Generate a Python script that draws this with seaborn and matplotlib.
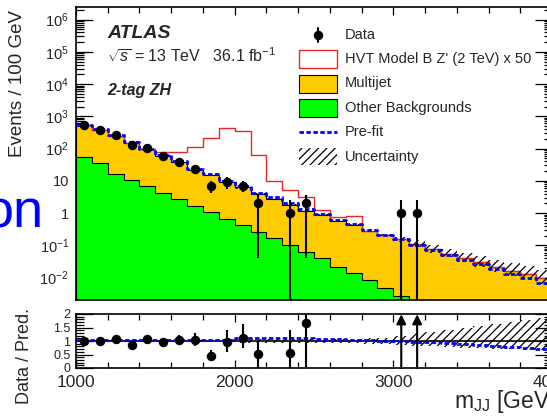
import numpy as np
import pandas as pd
import matplotlib
matplotlib.use("Agg")
import matplotlib.pyplot as plt
import seaborn as sns
from matplotlib.ticker import FixedLocator, MultipleLocator, FuncFormatter, NullFormatter
from matplotlib.patches import Rectangle
from matplotlib.lines import Line2D
from matplotlib.transforms import Affine2D

# ---- binning: m_JJ in 100 GeV bins ----
edges = np.arange(1000, 4001, 100)
centers = edges[:-1] + 50
bin_edges = [float(e) for e in edges]

# ---- post-fit background components (events / 100 GeV) ----
multijet = [477, 343, 229, 139, 88, 56, 35.3, 20.8, 14.1, 8.6,
            5.8, 3.6, 2.6, 1.7, 1.14, 0.83, 0.56, 0.416, 0.277, 0.205,
            0.152, 0.11, 0.075, 0.055, 0.04, 0.03, 0.022, 0.0165, 0.013, 0.0095]
other = [53, 35, 16.2, 10.6, 7.1, 4.3, 2.7, 1.66, 1.08, 0.66,
         0.43, 0.265, 0.166, 0.10, 0.064, 0.04, 0.022, 0.0137, 0.0085, 0.0047,
         0.0027, 0, 0, 0, 0, 0, 0, 0, 0, 0]

# HVT Model B Z' (2 TeV) x 50, stacked on the background
signal_x50 = [0, 0, 0, 0, 0, 16, 38, 86, 192, 413,
              349, 59, 7, 3.4, 1.95, 0.38, 0.2, 0.37, 0, 0,
              0, 0, 0, 0, 0, 0, 0, 0, 0, 0]

# pre-fit total background
prefit = [557, 397, 257, 157, 99.9, 63.3, 39.9, 23.6, 15.9, 9.7,
          6.9, 4.29, 3.07, 2.0, 1.34, 0.95, 0.62, 0.45, 0.291, 0.21,
          0.153, 0.106, 0.071, 0.051, 0.0356, 0.0258, 0.0183, 0.013, 0.00975, 0.00665]

# background uncertainty (relative, upward / downward)
unc_up = [0.02, 0.02, 0.02, 0.02, 0.02, 0.02, 0.02, 0.02, 0.03, 0.03,
          0.07, 0.07, 0.07, 0.07, 0.07, 0.08, 0.08, 0.08, 0.10, 0.10,
          0.20, 0.30, 0.35, 0.42, 0.50, 0.55, 0.62, 0.70, 0.78, 0.85]
unc_dn = [0.02, 0.02, 0.02, 0.02, 0.02, 0.02, 0.02, 0.02, 0.03, 0.03,
          0.07, 0.07, 0.07, 0.07, 0.07, 0.08, 0.08, 0.08, 0.10, 0.10,
          0.15, 0.18, 0.20, 0.22, 0.25, 0.27, 0.30, 0.31, 0.32, 0.33]

nan = np.nan
data = [535, 380, 262, 129, 103, 59, 39, 23, 7, 9,
        7, 2, nan, 1, 2, nan, nan, nan, nan, nan,
        1, 1, nan, nan, nan, nan, nan, nan, nan, nan]
data_err_lo = [23, 19.5, 16, 11.4, 10, 7.7, 6.2, 4.8, 2.9, 3.5,
               2.5, 1.96, nan, 0.999, 1.96, nan, nan, nan, nan, nan,
               0.999, 0.999, nan, nan, nan, nan, nan, nan, nan, nan]
data_err_hi = [24, 20.5, 17.2, 12.4, 11.1, 8.7, 7.3, 5.9, 3.1, 4.0,
               3.1, 1.8, nan, 1.55, 1.6, nan, nan, nan, nan, nan,
               1.6, 1.6, nan, nan, nan, nan, nan, nan, nan, nan]

multijet = np.array(multijet)
other = np.array(other)
signal_x50 = np.array(signal_x50)
prefit = np.array(prefit)
unc_up = np.array(unc_up)
unc_dn = np.array(unc_dn)
data = np.array(data)
data_err_lo = np.array(data_err_lo)
data_err_hi = np.array(data_err_hi)
total = multijet + other

hist = pd.DataFrame({
    "mjj": centers,
    "total": total,
    "other": other,
    "with_signal": total + signal_x50,
})


def step_ext(v):
    """Repeat the last bin so a steps-post curve spans the final bin."""
    v = np.asarray(v, dtype=float)
    return np.append(v, v[-1])


# ---- style ----
sns.set_theme(style="ticks")
plt.rcParams["font.family"] = ["Liberation Sans", "DejaVu Sans"]
plt.rcParams["mathtext.fontset"] = "custom"
plt.rcParams["mathtext.rm"] = "Liberation Sans"
plt.rcParams["mathtext.it"] = "Liberation Sans:italic"
plt.rcParams["mathtext.bf"] = "Liberation Sans:bold"
plt.rcParams["hatch.linewidth"] = 0.9
plt.rcParams["axes.linewidth"] = 1.0

W, H = 547, 416
fig = plt.figure(figsize=(W / 100, H / 100), dpi=100)
# pixel coordinates with origin at the top-left corner of the canvas
PX = Affine2D().scale(1.0 / W, -1.0 / H).translate(0, 1) + fig.transFigure

x_left, x_right = 76, 552
ax = fig.add_axes([x_left / W, 1 - 299.5 / H, (x_right - x_left) / W, (299.5 - 7) / H])
rax = fig.add_axes([x_left / W, 1 - 368 / H, (x_right - x_left) / W, (368 - 314) / H])

YELLOW = "#FFCC00"
GREEN = "#00FF00"
RED = "#E8272A"
BLUE = "#0000FF"
DASH = (0, (1.6, 0.9))
HATCH = "////"

ax.set_yscale("log")

# stacked backgrounds: total (multijet on top) then other backgrounds
sns.histplot(data=hist, x="mjj", weights="total", bins=bin_edges, element="step", fill=True,
             color=YELLOW, alpha=1, edgecolor="black", linewidth=0.8, ax=ax, zorder=1)
sns.histplot(data=hist, x="mjj", weights="other", bins=bin_edges, element="step", fill=True,
             color=GREEN, alpha=1, edgecolor="black", linewidth=0.8, ax=ax, zorder=1.1)

# signal stacked on background
sns.histplot(data=hist, x="mjj", weights="with_signal", bins=bin_edges, element="step",
             fill=False, color=RED, linewidth=1.0, ax=ax, zorder=2)

# uncertainty band
ax.fill_between(edges, step_ext(total * (1 - unc_dn)), step_ext(total * (1 + unc_up)),
                step="post", facecolor="none", edgecolor="black", hatch=HATCH,
                linewidth=0, zorder=3)

# pre-fit line
sns.lineplot(x=edges, y=step_ext(prefit), drawstyle="steps-post",
             color=BLUE, linewidth=2.0, ax=ax, zorder=4)
ax.lines[-1].set_linestyle(DASH)

# data
ok = ~np.isnan(data)
ax.errorbar(centers[ok], data[ok], yerr=[data_err_lo[ok], data_err_hi[ok]], fmt="o",
            color="black", ms=5.8, elinewidth=1.5, capsize=0, zorder=5)

ax.set_xlim(1000, 4000)
ax.set_ylim(2.1e-3, 2.45e6)
ax.set_xlabel("")
ax.set_ylabel("")


def log_label(v, pos):
    k = int(round(np.log10(v)))
    if k == 0:
        return "1"
    if k == 1:
        return "10"
    return r"$10^{%d}$" % k


ax.yaxis.set_major_locator(FixedLocator([10.0 ** k for k in range(-2, 7)]))
ax.yaxis.set_minor_locator(FixedLocator([m * 10.0 ** k for k in range(-3, 7) for m in range(2, 10)]))
ax.yaxis.set_major_formatter(FuncFormatter(log_label))
ax.yaxis.set_minor_formatter(NullFormatter())
ax.xaxis.set_major_locator(MultipleLocator(1000))
ax.xaxis.set_minor_locator(MultipleLocator(200))
ax.xaxis.set_major_formatter(NullFormatter())

for a in (ax, rax):
    a.tick_params(which="both", direction="in", top=True, right=True, color="black")
    a.tick_params(axis="y", which="major", length=12, width=0.9)
    a.tick_params(axis="y", which="minor", length=6, width=0.9)
    a.tick_params(axis="x", which="major", length=6, width=0.9)
    a.tick_params(axis="x", which="minor", length=4, width=0.9)
    for s in a.spines.values():
        s.set_color("black")
        s.set_linewidth(1.2)
ax.tick_params(axis="y", labelsize=10.5, pad=5)

# ---- ratio panel ----
rax.fill_between(edges, step_ext(1 - unc_dn), step_ext(1 + unc_up), step="post",
                 facecolor="none", edgecolor="black", hatch=HATCH, linewidth=0, zorder=1)
rax.axhline(1.0, color="black", linewidth=1.2, zorder=2)
pre_ratio = prefit / total
sns.lineplot(x=edges, y=step_ext(pre_ratio), drawstyle="steps-post",
             color=BLUE, linewidth=2.0, ax=rax, zorder=3)
rax.lines[-1].set_linestyle(DASH)

ratio = data / total
r_lo = data_err_lo / total
r_hi = data_err_hi / total
inside = ok & (ratio <= 2)
rax.errorbar(centers[inside], ratio[inside], yerr=[r_lo[inside], r_hi[inside]], fmt="o",
             color="black", ms=5.8, elinewidth=1.5, capsize=0, zorder=5)
for c in centers[ok & (ratio > 2)]:
    rax.annotate("", xy=(c, 1.99), xytext=(c, 0.0),
                 arrowprops=dict(arrowstyle="-|>", color="black", lw=1.5,
                                 mutation_scale=14, shrinkA=0, shrinkB=0), zorder=5)

rax.set_xlim(1000, 4000)
rax.set_ylim(0, 2)
rax.yaxis.set_major_locator(FixedLocator([0, 0.5, 1, 1.5, 2]))
rax.yaxis.set_major_formatter(FuncFormatter(lambda v, p: "%g" % v))
rax.yaxis.set_minor_locator(MultipleLocator(0.1))
rax.xaxis.set_major_locator(MultipleLocator(1000))
rax.xaxis.set_minor_locator(MultipleLocator(200))
rax.tick_params(axis="y", labelsize=9, pad=4)
rax.tick_params(axis="x", labelsize=12.5, pad=5)
rax.set_xlabel("")
rax.set_ylabel("")

# ---- axis titles ----
fig.text(17.5, 10, "Events / 100 GeV", transform=PX, rotation=90, ha="center", va="top",
         fontsize=13.5)
fig.text(25, 308, "Data / Pred.", transform=PX, rotation=90, ha="center", va="top",
         fontsize=13)
fig.text(555, 408, r"m$_{\mathregular{JJ}}$ [GeV]", transform=PX, ha="right",
         va="baseline", fontsize=16.5)

# ---- labels in the plot ----
fig.text(107, 38, "ATLAS", transform=PX, fontsize=14, fontweight="bold", style="italic",
         va="baseline")
fig.text(107, 62, r"$\sqrt{s}$ = 13 TeV   36.1 fb$^{-1}$", transform=PX, fontsize=11.5,
         va="baseline")
fig.text(107, 95, "2-tag ZH", transform=PX, fontsize=11.5, fontweight="bold",
         style="italic", va="baseline")

# ---- legend ----
bx, bw = 299, 38
tx = 345
fs_leg = 10.5
fig.add_artist(Line2D([318, 318], [28, 42], transform=PX, color="black", lw=1.5))
fig.add_artist(Line2D([318], [35], transform=PX, color="black", marker="o", ms=5.8, lw=0))
fig.text(tx, 35, "Data", transform=PX, va="center", fontsize=fs_leg)
fig.add_artist(Rectangle((bx, 50), bw, 18, transform=PX, facecolor="white", edgecolor=RED, lw=1.0))
fig.text(tx, 59, "HVT Model B Z' (2 TeV) x 50", transform=PX, va="center", fontsize=fs_leg)
fig.add_artist(Rectangle((bx, 75), bw, 18, transform=PX, facecolor=YELLOW, edgecolor="black", lw=0.8))
fig.text(tx, 83, "Multijet", transform=PX, va="center", fontsize=fs_leg)
fig.add_artist(Rectangle((bx, 99), bw, 18, transform=PX, facecolor=GREEN, edgecolor="black", lw=0.8))
fig.text(tx, 108, "Other Backgrounds", transform=PX, va="center", fontsize=fs_leg)
fig.add_artist(Line2D([bx, bx + bw], [132, 132], transform=PX, color=BLUE, lw=2.0,
                      linestyle=DASH))
fig.text(tx, 132, "Pre-fit", transform=PX, va="center", fontsize=fs_leg)
fig.add_artist(Rectangle((bx, 148), bw, 17, transform=PX, facecolor="none", edgecolor="black",
                         hatch=HATCH, lw=0))
fig.text(tx, 157, "Uncertainty", transform=PX, va="center", fontsize=fs_leg)

# slide title fragment at the left edge
fig.text(44, 228, "on", transform=PX, ha="right", va="baseline", fontsize=39, color=BLUE)

fig.savefig("out.png", dpi=100)
